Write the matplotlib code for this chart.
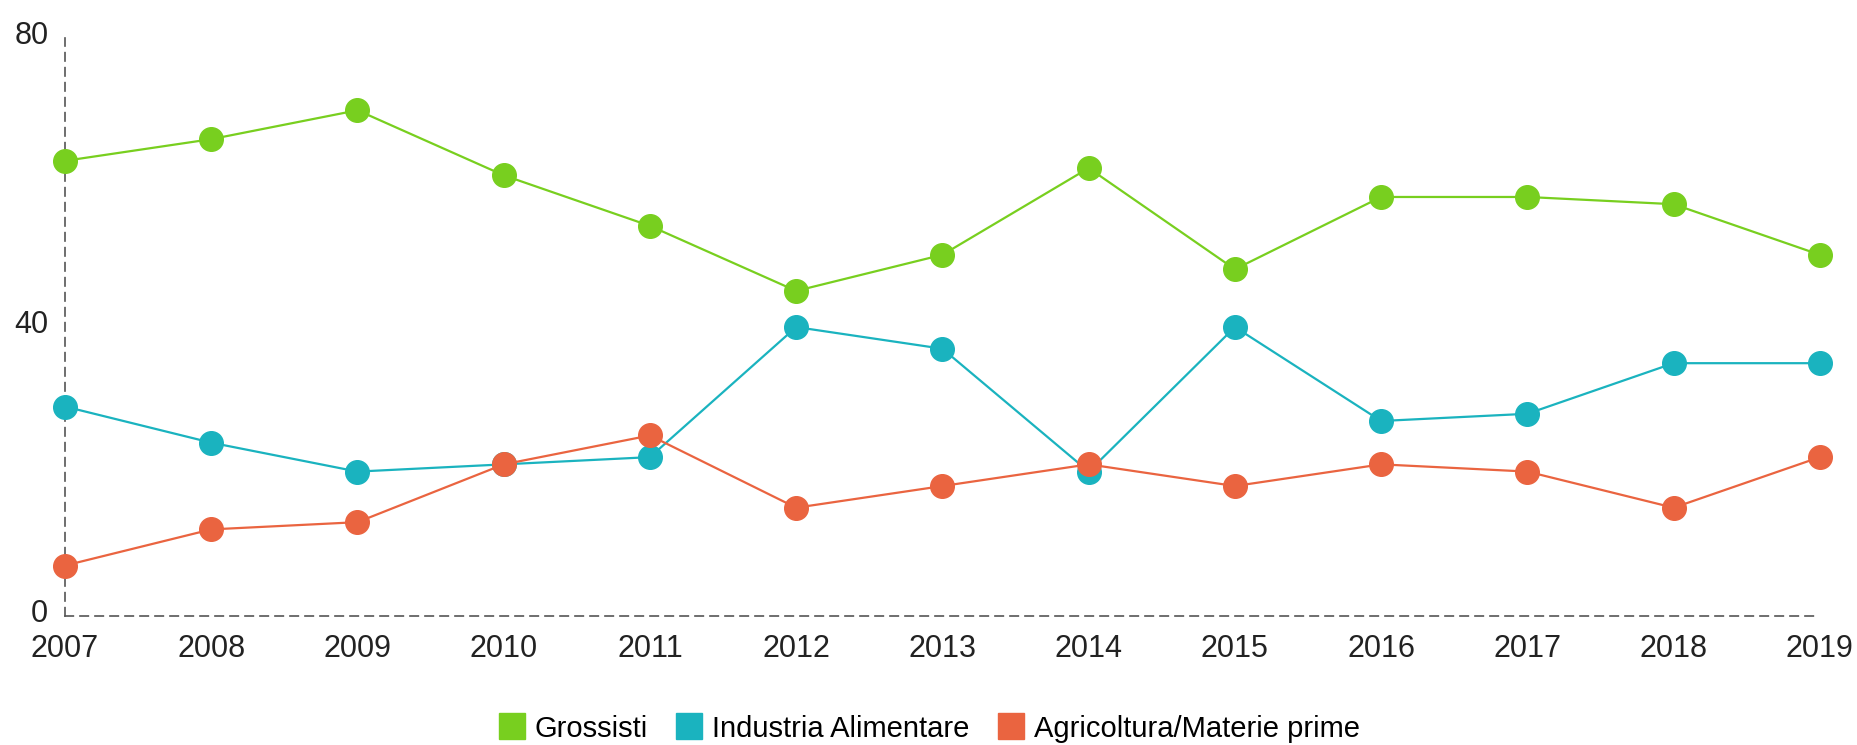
import matplotlib
matplotlib.use("Agg")
import matplotlib.pyplot as plt
from matplotlib.lines import Line2D
import matplotlib.transforms as mtransforms

years = [2007, 2008, 2009, 2010, 2011, 2012, 2013, 2014, 2015, 2016, 2017, 2018, 2019]
grossisti = [63, 66, 70, 61, 54, 45, 50, 62, 48, 58, 58, 57, 50]
industria = [29, 24, 20, 21, 22, 40, 37, 20, 40, 27, 28, 35, 35]
agricoltura = [7, 12, 13, 21, 25, 15, 18, 21, 18, 21, 20, 15, 22]
series_names = ["Grossisti", "Industria Alimentare", "Agricoltura/Materie prime"]
colors = ["#78CF1F", "#1AB3BF", "#EA6440"]
y_ticks = [0, 40, 80]

plt.rcParams['font.family'] = ['Liberation Sans', 'DejaVu Sans']

fig = plt.figure(figsize=(18.57, 7.45), dpi=100)
ax = fig.add_axes([0.035, 0.173, 0.945, 0.776])

for vals, col in zip([grossisti, industria, agricoltura], colors):
    ax.plot(years, vals, color=col, lw=1.6, marker='o', markersize=17,
            markerfacecolor=col, markeredgecolor=col, clip_on=False, zorder=3)

ax.set_xlim(years[0], years[-1])
ax.set_ylim(0, 80)
ax.set_xticks(years)
ax.set_yticks(y_ticks)
ax.tick_params(axis='both', length=0, labelsize=22, colors='#222222')
ax.tick_params(axis='y', pad=12)
ax.tick_params(axis='x', pad=13)

# nudge y tick labels slightly up, as in the reference
offset = mtransforms.ScaledTranslation(0, 4 / 72, fig.dpi_scale_trans)
for lbl in ax.get_yticklabels():
    lbl.set_transform(lbl.get_transform() + offset)

for s in ['top', 'right']:
    ax.spines[s].set_visible(False)
for s in ['left', 'bottom']:
    ax.spines[s].set_linestyle((0, (5, 4)))
    ax.spines[s].set_color('#555555')
    ax.spines[s].set_linewidth(1.2)

handles = [Line2D([0], [0], marker='s', linestyle='none', markersize=19,
                  markerfacecolor=c, markeredgecolor=c) for c in colors]
fig.legend(handles, series_names, loc='center', bbox_to_anchor=(0.5, 0.022),
           ncol=3, frameon=False, fontsize=21, handletextpad=0.3,
           columnspacing=0.9, handlelength=1.0)

fig.savefig("out.png", dpi=100, facecolor='white')
